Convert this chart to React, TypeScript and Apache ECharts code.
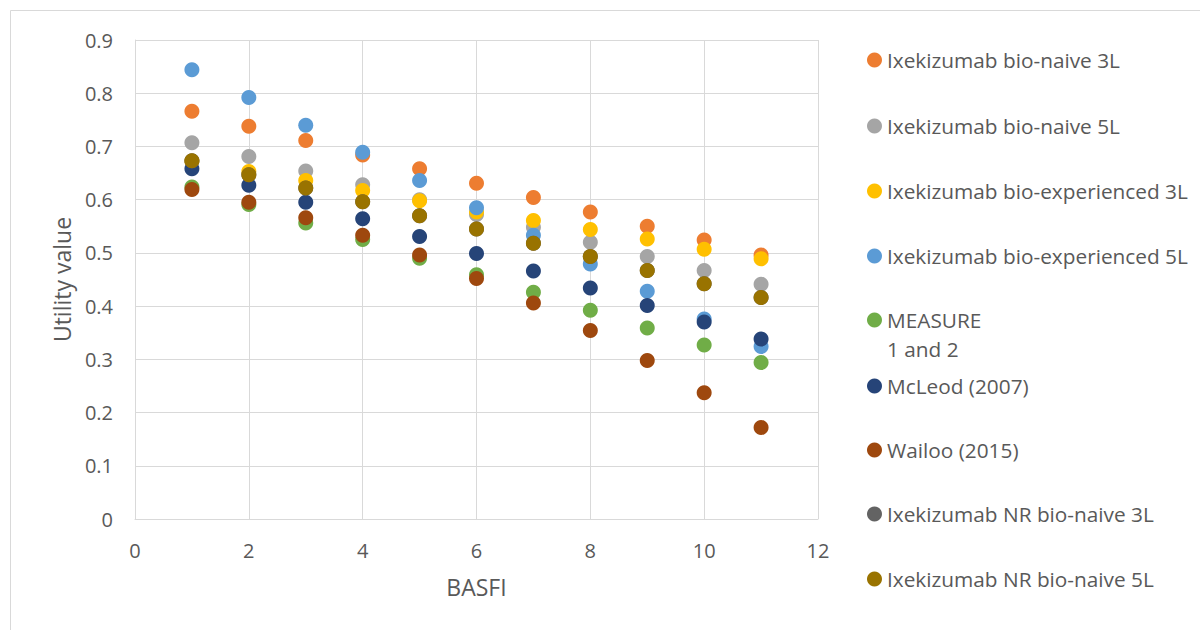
import React, { useEffect, useRef } from "react";
import * as echarts from "echarts";

const basfi = [1, 2, 3, 4, 5, 6, 7, 8, 9, 10, 11];
const bioNaive3L = [0.766, 0.738, 0.711, 0.684, 0.658, 0.631, 0.604, 0.577, 0.55, 0.524, 0.496];
const bioNaive5L = [0.707, 0.681, 0.654, 0.628, 0.6, 0.572, 0.548, 0.52, 0.493, 0.467, 0.441];
const bioExp3L = [0.672, 0.653, 0.636, 0.617, 0.598, 0.577, 0.561, 0.544, 0.526, 0.507, 0.489];
const bioExp5L = [0.844, 0.792, 0.74, 0.689, 0.636, 0.585, 0.533, 0.479, 0.428, 0.376, 0.324];
const measure = [0.624, 0.591, 0.556, 0.525, 0.49, 0.459, 0.426, 0.392, 0.359, 0.327, 0.294];
const mcleod = [0.658, 0.627, 0.595, 0.564, 0.531, 0.499, 0.466, 0.434, 0.401, 0.37, 0.338];
const wailoo = [0.619, 0.595, 0.566, 0.533, 0.496, 0.452, 0.406, 0.354, 0.298, 0.237, 0.172];
const nrBioNaive3L = [0.673, 0.647, 0.622, 0.596, 0.57, 0.545, 0.518, 0.493, 0.467, 0.442, 0.416];
const nrBioNaive5L = [0.673, 0.647, 0.622, 0.596, 0.57, 0.545, 0.518, 0.493, 0.467, 0.442, 0.416];

const seriesNames = [
  "Ixekizumab bio-naive 3L",
  "Ixekizumab bio-naive 5L",
  "Ixekizumab bio-experienced 3L",
  "Ixekizumab bio-experienced 5L",
  "MEASURE 1 and 2",
  "McLeod (2007)",
  "Wailoo (2015)",
  "Ixekizumab NR bio-naive 3L",
  "Ixekizumab NR bio-naive 5L",
];
const seriesValues = [bioNaive3L, bioNaive5L, bioExp3L, bioExp5L, measure, mcleod, wailoo, nrBioNaive3L, nrBioNaive5L];
const seriesColors = ["#ED7D31", "#A5A5A5", "#FFC000", "#5B9BD5", "#70AD47", "#264478", "#9E480E", "#636363", "#997300"];
const legendCenters = [60, 126, 191, 256, 320, 386, 450, 514, 579];

const FONT = "Open Sans";
const TEXT = "#595959";
const GRID = "#d9d9d9";

export default function App() {
  const ref = useRef<HTMLDivElement>(null);
  useEffect(() => {
    if (!ref.current) return;
    const chart = echarts.init(ref.current, null, { renderer: "svg" });
    const legends = seriesNames.map((name, i) => {
      const isMeasure = name === "MEASURE 1 and 2";
      const lh = isMeasure ? 29 : 24;
      const top = isMeasure ? legendCenters[i] - 43.5 : legendCenters[i] - 12;
      return {
        show: true,
        data: [name],
        left: 867,
        top,
        orient: "vertical",
        icon: "circle",
        itemWidth: 15,
        itemHeight: 15,
        padding: 0,
        selectedMode: false,
        formatter: isMeasure ? () => " \nMEASURE\n1 and 2" : undefined,
        textStyle: {
          fontFamily: FONT,
          fontSize: 20.8,
          color: TEXT,
          lineHeight: lh,
        },
      };
    });
    chart.setOption({
      animation: false,
      backgroundColor: "#ffffff",
      textStyle: { fontFamily: FONT },
      graphic: [
        {
          type: "rect",
          shape: { x: 10.5, y: 10.5, width: 1200, height: 630 },
          style: { fill: "none", stroke: GRID, lineWidth: 1 },
          silent: true,
        },
      ],
      grid: { left: 135, top: 40, right: 382, bottom: 111, containLabel: false },
      legend: legends,
      xAxis: {
        type: "value",
        min: 0,
        max: 12,
        interval: 2,
        name: "BASFI",
        nameLocation: "middle",
        nameGap: 56,
        nameTextStyle: { fontFamily: FONT, fontSize: 23, color: TEXT },
        axisLine: { show: true, lineStyle: { color: GRID, width: 1 } },
        axisTick: { show: false },
        axisLabel: { fontFamily: FONT, fontSize: 20, color: TEXT, margin: 21 },
        splitLine: { show: true, lineStyle: { color: GRID, width: 1 } },
      },
      yAxis: {
        type: "value",
        min: 0,
        max: 0.9,
        interval: 0.1,
        name: "Utility value",
        nameLocation: "middle",
        nameGap: 60,
        nameTextStyle: { fontFamily: FONT, fontSize: 23, color: TEXT },
        axisLine: { show: true, lineStyle: { color: GRID, width: 1 } },
        axisTick: { show: false },
        axisLabel: {
          fontFamily: FONT,
          fontSize: 20,
          color: TEXT,
          margin: 22,
          formatter: (v: number) => String(Math.round(v * 10) / 10),
        },
        splitLine: { show: true, lineStyle: { color: GRID, width: 1 } },
      },
      series: seriesNames.map((name, i) => ({
        name,
        type: "scatter",
        symbol: "circle",
        symbolSize: 15,
        itemStyle: { color: seriesColors[i], opacity: 1 },
        data: basfi.map((x, j) => [x, seriesValues[i][j]]),
      })),
    });
    return () => chart.dispose();
  }, []);
  return <div ref={ref} style={{ position: "fixed", left: 0, top: 0, width: 1200, height: 630 }} />;
}
